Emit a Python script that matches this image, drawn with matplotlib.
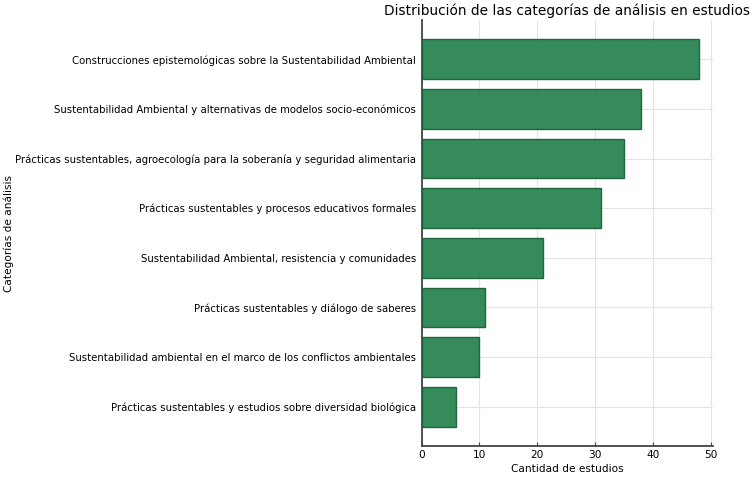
import matplotlib
matplotlib.use("Agg")
import matplotlib.pyplot as plt

# categories, top to bottom
categorias = [
    "Construcciones epistemológicas sobre la Sustentabilidad Ambiental",
    "Sustentabilidad Ambiental y alternativas de modelos socio-económicos",
    "Prácticas sustentables, agroecología para la soberanía y seguridad alimentaria",
    "Prácticas sustentables y procesos educativos formales",
    "Sustentabilidad Ambiental, resistencia y comunidades",
    "Prácticas sustentables y diálogo de saberes",
    "Sustentabilidad ambiental en el marco de los conflictos ambientales",
    "Prácticas sustentables y estudios sobre diversidad biológica",
]
cantidades = [48, 38, 35, 31, 21, 11, 10, 6]

fig = plt.figure(figsize=(7.53, 4.79), dpi=100)
ax = fig.add_axes([0.560, 0.069, 0.387, 0.889])

# reverse so the biggest bar ends up on top
ax.barh(categorias[::-1], cantidades[::-1], height=0.8,
        color="#2a8553", alpha=0.95, edgecolor="#1d6039", linewidth=1.0, zorder=3)

ax.set_xticks([0, 10, 20, 30, 40, 50])
ax.set_xlim(0, 50.4)
ax.grid(True, color="#e4e4e4", linewidth=0.8, zorder=0)
for side in ("top", "right"):
    ax.spines[side].set_visible(False)
for side in ("left", "bottom"):
    ax.spines[side].set_color("#444444")
    ax.spines[side].set_linewidth(1.3)
ax.tick_params(axis="both", direction="in", length=3, labelsize=7.3, color="#444444")
ax.tick_params(axis="y", length=0, pad=4)
ax.tick_params(axis="x", labelsize=7.6, pad=3)

ax.set_xlabel("Cantidad de estudios", fontsize=7.6, labelpad=3)
ax.set_title("Distribución de las categorías de análisis en estudios", fontsize=9.9, pad=4)
# y label sits at the far left edge of the figure
fig.text(0.011, 0.5135, "Categorías de análisis", rotation=90, fontsize=7.6,
         ha="center", va="center")

fig.savefig("out.png", dpi=100)
